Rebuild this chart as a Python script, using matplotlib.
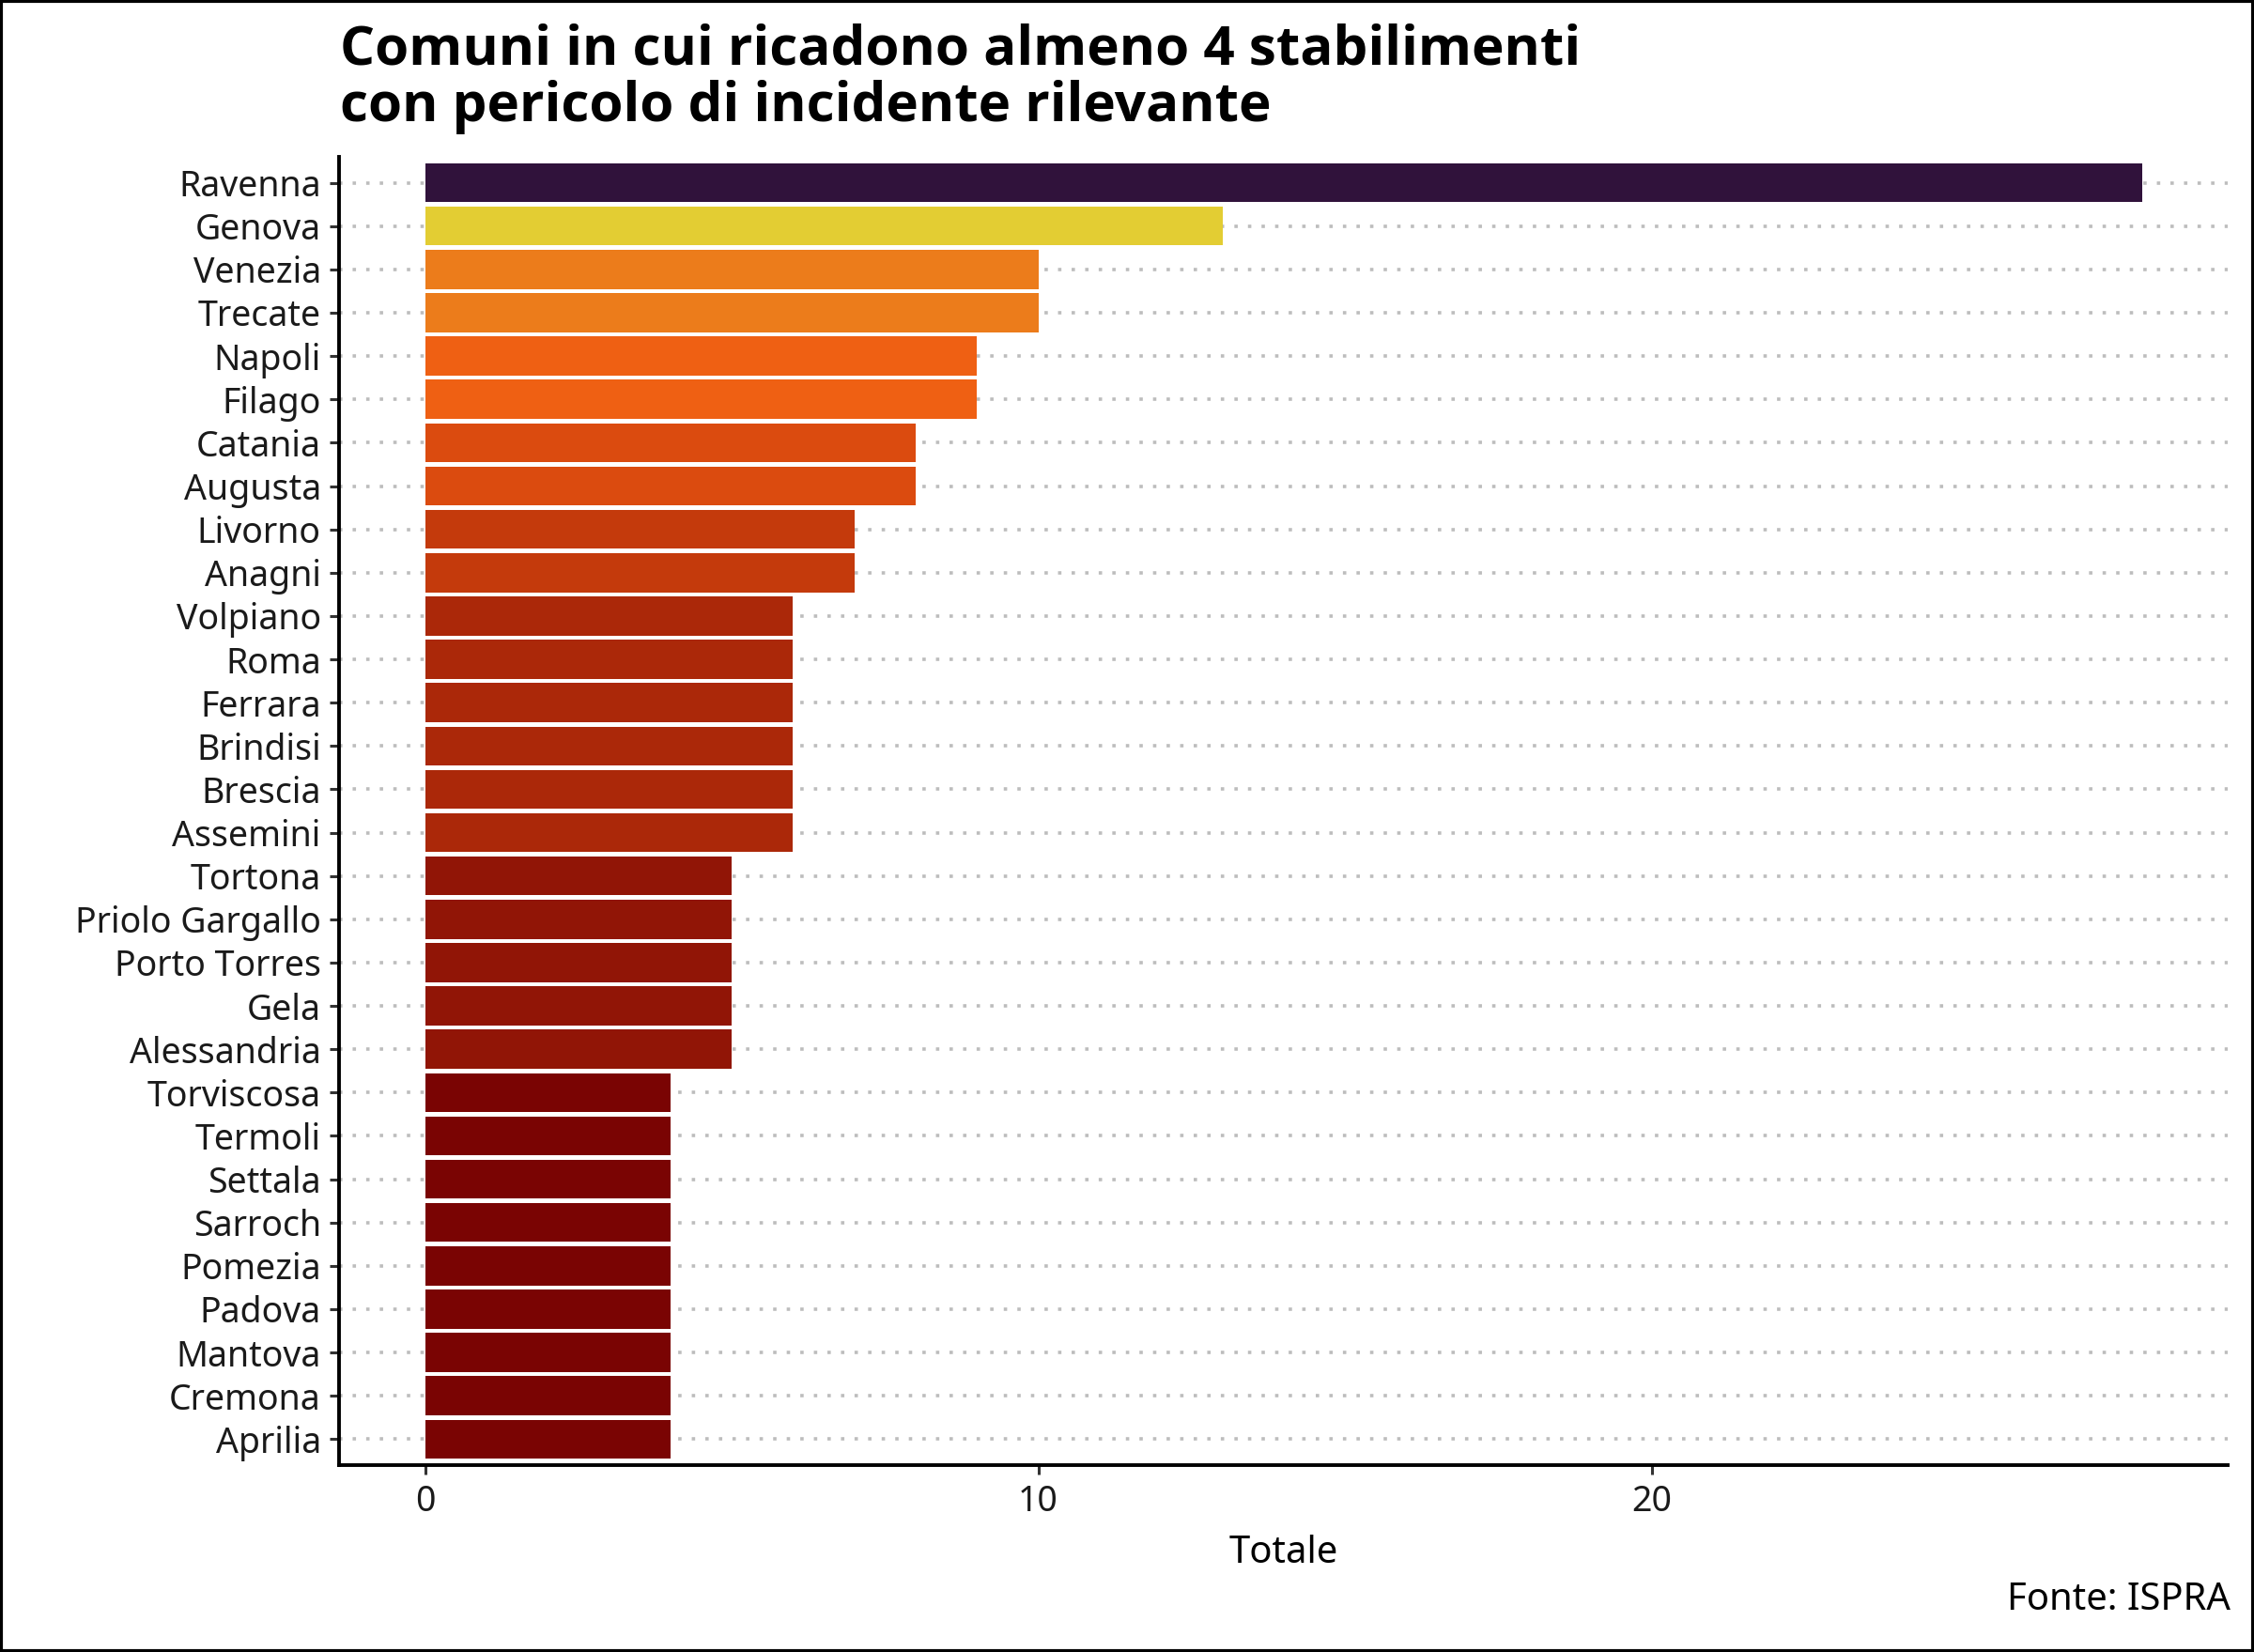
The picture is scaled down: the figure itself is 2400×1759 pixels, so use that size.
import matplotlib.pyplot as plt
from matplotlib.colors import Normalize, LinearSegmentedColormap
from matplotlib.patches import Rectangle
import numpy as np

plt.rcParams['font.family'] = ['Noto Sans', 'DejaVu Sans']

comuni = ['Ravenna', 'Genova', 'Venezia', 'Trecate', 'Napoli', 'Filago',
          'Catania', 'Augusta', 'Livorno', 'Anagni', 'Volpiano', 'Roma',
          'Ferrara', 'Brindisi', 'Brescia', 'Assemini', 'Tortona',
          'Priolo Gargallo', 'Porto Torres', 'Gela', 'Alessandria',
          'Torviscosa', 'Termoli', 'Settala', 'Sarroch', 'Pomezia',
          'Padova', 'Mantova', 'Cremona', 'Aprilia']
totale = [28, 13, 10, 10, 9, 9, 8, 8, 7, 7, 6, 6, 6, 6, 6, 6,
          5, 5, 5, 5, 5, 4, 4, 4, 4, 4, 4, 4, 4, 4]
xticks = [0, 10, 20]

fig = plt.figure(figsize=(12, 8.795), dpi=200)
ax = fig.add_axes([0.1505, 0.1131, 0.838, 0.792])

# turbo, reversed, sampled at 6 points and interpolated (like ggplot's viridis_c)
base = plt.get_cmap('turbo_r')(np.linspace(0, 1, 6))
cmap = LinearSegmentedColormap.from_list('turbo6', base)
norm = Normalize(vmin=min(totale), vmax=max(totale))
colors = [cmap(norm(v)) for v in totale]

ypos = np.arange(len(comuni))[::-1]
ax.barh(ypos, totale, height=0.9, color=colors, zorder=2)

ax.set_yticks(ypos)
ax.set_yticklabels(comuni, fontsize=13.5, color='#1a1a1a')
ax.set_xticks(xticks)
ax.set_xticklabels([str(t) for t in xticks], fontsize=13.5, color='#1a1a1a')
ax.set_xlim(-1.4, 29.4)
ax.set_ylim(-0.6, len(comuni) - 0.4)

ax.grid(axis='y', linestyle=(0, (1, 3)), color='#bdbdbd', linewidth=1.3, zorder=0)
ax.grid(axis='x', visible=False)
for s in ['top', 'right']:
    ax.spines[s].set_visible(False)
for s in ['left', 'bottom']:
    ax.spines[s].set_linewidth(1.4)
    ax.spines[s].set_color('black')
ax.tick_params(axis='both', length=3.5, width=1.1, color='#333333', pad=3.5)

ax.set_xlabel('Totale', fontsize=14.4, labelpad=6)

fig.text(0.151, 0.986, 'Comuni in cui ricadono almeno 4 stabilimenti\ncon pericolo di incidente rilevante',
         fontsize=21, fontweight='bold', family=['Open Sans', 'Noto Sans'],
         ha='left', va='top', linespacing=1.05)
fig.text(0.9895, 0.02, 'Fonte: ISPRA', fontsize=14.4, ha='right', va='bottom')

fig.patches.append(Rectangle((0.0005, 0.0007), 0.999, 0.9986, transform=fig.transFigure,
                             fill=False, edgecolor='black', linewidth=1.5))

fig.savefig('out.png', dpi=200)
